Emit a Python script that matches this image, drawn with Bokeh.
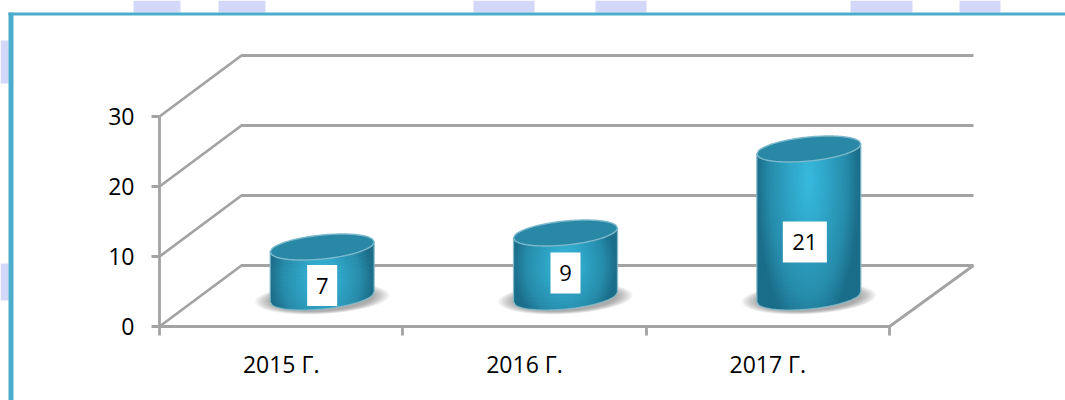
import math
from bokeh.embed import file_html
from bokeh.resources import INLINE
from bokeh.plotting import figure
from bokeh.models import Range1d, LinearAxis, FixedTicker
from bokeh.core.properties import value

CATEGORIES = ["2015 Г.", "2016 Г.", "2017 Г."]
VALUES = [7, 9, 21]
Y_TICKS = [0, 10, 20, 30]
LABEL_DROP = [13.5, 8, 19]      # px the data label sits below the body's middle
LABEL_SHIFT = [0, 0, -4]        # px the data label sits left of the body's centre
LABEL_BOX_W = [30, 30, 44]
WATERMARK = [(133, 180), (218, 265), (473, 534), (595, 646), (850, 912), (959, 1000)]
WATERMARK_L = [(40, 83), (263, 300)]

W, H = 1065, 400
ORG_X, ORG_Y = 159, 326              # origin of the axes within the figure
UX = 730 / 3                         # px per category
UY = 7.0                             # px per unit of value
DX, DY = 82 / UX, 61 / UY            # depth offset of the back wall
TIP = 2 / UX                         # the far right end runs a little further
FONT = "Open Sans"
GREY = "#A3A3A3"
GW = 2.8

p = figure(width=W, height=H, output_backend="svg", toolbar_location=None,
           x_range=Range1d(-ORG_X / UX, (W - ORG_X) / UX),
           y_range=Range1d((ORG_Y - H) / UY, ORG_Y / UY),
           x_axis_type=None, y_axis_type=None, min_border=0,
           outline_line_color=None, background_fill_color="white",
           border_fill_color="white")


def px(x):   # figure px -> data
    return (x - ORG_X) / UX


def py(y):
    return (ORG_Y - y) / UY


def lerp_hex(stops, t):
    t = max(0.0, min(1.0, t))
    for (t0, c0), (t1, c1) in zip(stops, stops[1:]):
        if t <= t1:
            f = (t - t0) / (t1 - t0)
            rgb = [round(c0[i] + (c1[i] - c0[i]) * f) for i in range(3)]
            return "#%02x%02x%02x" % tuple(rgb)
    return "#%02x%02x%02x" % stops[-1][1]


STOPS = [(0.0, (0x38, 0xBA, 0xDF)), (0.35, (0x2F, 0xA6, 0xC8)),
         (0.75, (0x27, 0x8C, 0xAB)), (1.0, (0x1B, 0x6E, 0x8A))]

# frame and watermark
p.quad(left=[px(a) for a, _ in WATERMARK], right=[px(b) for _, b in WATERMARK],
       bottom=py(12), top=py(0), fill_color="#D3D8F8", line_color=None)
p.quad(left=px(0), right=px(8), bottom=[py(b) for _, b in WATERMARK_L],
       top=[py(a) for a, _ in WATERMARK_L], fill_color="#D3D8F8", line_color=None)
p.quad(left=px(8), right=px(13), bottom=py(400), top=py(12), fill_color="#4BADCB", line_color=None)
p.quad(left=px(8), right=px(1065), bottom=py(15), top=py(12), fill_color="#4BADCB", line_color=None)

# back wall + side wall + floor
n = len(CATEGORIES)
for t in Y_TICKS:
    p.line([0, DX, n + DX + TIP], [t, t + DY, t + DY], line_color=GREY, line_width=GW)
p.line([0, n, n + DX + TIP], [0, 0, DY], line_color=GREY, line_width=GW)

A, B, SHEAR = 52.0, 12.0, 0.096      # top ellipse semi-axes px, tilt
STRIP, ROW = 2.0, 4.0

for i, v in enumerate(VALUES):
    cx = i + 0.5 + DX / 2
    base = DY / 2 - 0.15
    top = v + DY / 2

    def arc(dx, sign):
        return SHEAR * dx + sign * B * math.sqrt(max(0.0, 1 - (dx / A) ** 2))

    # soft shadow
    for k in range(8):
        a = 67 - k * 2.2
        b = 15.5 - k * 0.4
        ts = [2 * math.pi * q / 60 for q in range(60)]
        p.patch([cx + a * math.cos(s) / UX for s in ts],
                [base - 1.5 / UY + (b * math.sin(s) + 0.05 * a * math.cos(s)) / UY for s in ts],
                fill_color="#4A4A4A", fill_alpha=0.075, line_color=None)

    # body, as a grid of shaded cells (each slightly overlapping the next)
    h_px = (top - base) * UY
    hi_y = top - (B + 20) / UY               # where the highlight sits
    reach = max(62.0, h_px * 1.05)
    xs, ys, cols = [], [], []
    steps = int(2 * A / STRIP)
    rows = max(2, int(h_px / ROW))
    for s in range(steps):
        d0 = -A + s * STRIP
        d1 = min(A, d0 + STRIP + 0.7)
        dm = d0 + STRIP / 2
        for r in range(rows):
            f0, f1 = r / rows, min(1.0, (r + 1.25) / rows)
            def yy(d, f):
                return base + (top - base) * f + arc(d, -1) / UY
            xs.append([cx + d0 / UX, cx + d1 / UX, cx + d1 / UX, cx + d0 / UX])
            ys.append([yy(d0, f0), yy(d1, f0), yy(d1, f1), yy(d0, f1)])
            ym = yy(dm, (r + 0.5) / rows)
            u = dm / A
            dist = math.sqrt((u * (1.0 if u < 0 else 1.04)) ** 2 + (((ym - hi_y) * UY) / reach) ** 2)
            cols.append(lerp_hex(STOPS, dist))
    p.patches(xs, ys, fill_color=cols, line_color=None)

    # rim along the silhouette
    ds = [-A + 2 * A * q / 60 for q in range(61)]
    outline_x = [cx + d / UX for d in ds] + [cx + A / UX, cx - A / UX]
    outline_y = [base + arc(d, -1) / UY for d in ds] + [top + arc(A, -1) / UY, top + arc(-A, -1) / UY]
    p.patch(outline_x + [outline_x[0]], outline_y + [outline_y[0]], fill_color=None,
            line_color="#86BCCD", line_width=1.3, line_alpha=0.85)

    # top cap
    cap_x = [cx + d / UX for d in ds] + [cx + d / UX for d in reversed(ds)]
    cap_y = [top + arc(d, -1) / UY for d in ds] + [top + arc(d, 1) / UY for d in reversed(ds)]
    p.patch(cap_x, cap_y, fill_color="#2A88A7", line_color="#7CB9CC", line_width=1.4)

    # data label
    mid = (base + top) / 2 - LABEL_DROP[i] / UY
    lx = cx + LABEL_SHIFT[i] / UX
    p.rect([lx], [mid], width=LABEL_BOX_W[i], height=41, width_units="screen",
           height_units="screen", fill_color="white", line_color=None)
    p.text([lx], [mid], text=[str(v)], text_align="center", text_baseline="middle",
           text_font=value(FONT), text_font_size="22px", text_color="#000000")

# axes of the front corner
yax = LinearAxis(fixed_location=0, bounds=(0, max(Y_TICKS)), ticker=FixedTicker(ticks=Y_TICKS))
yax.axis_line_color = GREY
yax.axis_line_width = GW
yax.major_tick_line_color = GREY
yax.major_tick_line_width = GW
yax.major_tick_out = 8
yax.major_tick_in = 0
yax.minor_tick_line_color = None
yax.major_label_standoff = 17
yax.major_label_text_font = FONT
yax.major_label_text_font_size = "23px"
yax.major_label_text_color = "#000000"
p.add_layout(yax, "left")

centers = [i + 0.5 for i in range(n)]
xax = LinearAxis(fixed_location=0, bounds=(0, n),
                 ticker=FixedTicker(ticks=centers, minor_ticks=list(range(n + 1))))
xax.axis_line_color = GREY
xax.axis_line_width = GW
xax.major_tick_line_color = None
xax.major_tick_out = 0
xax.major_tick_in = 0
xax.minor_tick_line_color = GREY
xax.minor_tick_line_width = GW
xax.minor_tick_out = 9
xax.minor_tick_in = 0
xax.major_label_standoff = 12
xax.major_label_text_font = FONT
xax.major_label_text_font_size = "23px"
xax.major_label_text_color = "#000000"
xax.major_label_overrides = {c: t for c, t in zip(centers, CATEGORIES)}
p.add_layout(xax, "below")

open("out.html", "w").write(file_html(p, INLINE))
